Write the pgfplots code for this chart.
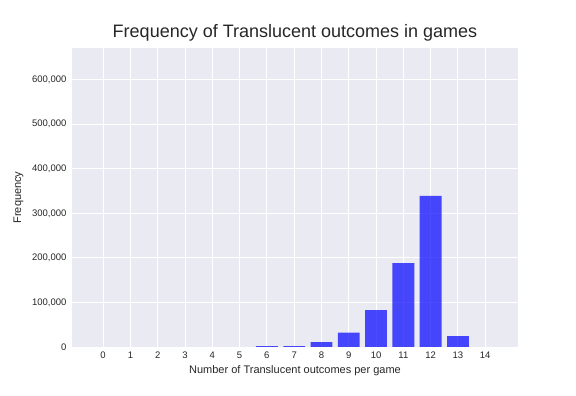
\documentclass[border=0pt]{standalone}
\usepackage{pgfplots}
\pgfplotsset{compat=1.18}
\usepackage{fontspec}
\setmainfont{Liberation Sans}
\definecolor{sbbg}{HTML}{EAEAF2}
\definecolor{sbtxt}{HTML}{262626}
\begin{document}
\begin{tikzpicture}
\path (0,0) rectangle (576bp,396bp);
\begin{axis}[
  at={(72bp,49bp)}, anchor=south west,
  scale only axis, width=446bp, height=299bp,
  xmin=-1.14, xmax=15.2, ymin=0, ymax=671000,
  axis background/.style={fill=sbbg},
  axis line style={draw=none},
  major tick length=0pt,
  scaled y ticks=false,
  xtick={0,1,2,3,4,5,6,7,8,9,10,11,12,13,14},
  xticklabels={0,1,2,3,4,5,6,7,8,9,10,11,12,13,14},
  ytick={0,100000,200000,300000,400000,500000,600000},
  yticklabels={0,{100,000},{200,000},{300,000},{400,000},{500,000},{600,000}},
  grid=major, major grid style={white, line width=1bp},
  tick label style={font=\fontsize{9.5bp}{11bp}\selectfont, text=sbtxt},
  xticklabel style={yshift=-1bp},
  yticklabel style={xshift=-2bp},
  label style={font=\fontsize{11bp}{13bp}\selectfont, text=sbtxt},
  xlabel={Number of Translucent outcomes per game},
  xlabel style={yshift=0bp},
  ylabel={Frequency},
  ylabel style={yshift=2bp},
  title={Frequency of Translucent outcomes in games},
  title style={font=\fontsize{18bp}{21bp}\selectfont, text=sbtxt, yshift=-3bp},
  ybar, bar width=0.8, bar shift=0pt,
]
\addplot[fill=blue, fill opacity=0.7, draw=none] coordinates {
(6,1800) (7,2000) (8,11000) (9,32000) (10,83000) (11,188000) (12,339000) (13,24500)
};
\end{axis}
\end{tikzpicture}
\end{document}
